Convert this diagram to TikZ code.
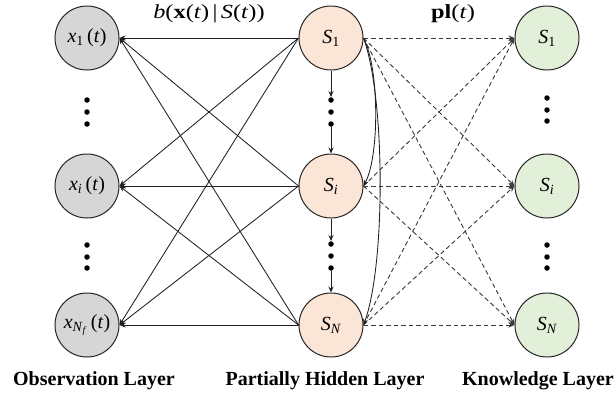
\documentclass[tikz,border=0pt]{standalone}
\usepackage{fontspec}
\setmainfont{Liberation Serif}
\newfontfamily\wideserif[FakeStretch=1.22]{Liberation Serif}
\usetikzlibrary{arrows.meta}
\tikzset{
  lay/.style={circle, draw=black!85, line width=1pt, minimum size=64pt, inner sep=0pt, font=\fontsize{20}{22}\selectfont},
  obs/.style={lay},
  hid/.style={lay},
  kno/.style={lay},
  dotnode/.style={circle, fill=black, inner sep=0pt, minimum size=5.5pt},
  sedge/.style={draw=black!88, line width=0.85pt, -{Stealth[length=6pt,width=5pt]}},
  dedge/.style={draw=black!78, line width=0.9pt, dash pattern=on 4.5pt off 3pt, -{Stealth[length=6pt,width=5pt]}},
  laylabel/.style={font=\fontsize{20}{24}\selectfont\bfseries, inner sep=0pt},
  toplabel/.style={font=\wideserif\fontsize{20}{24}\selectfont, inner sep=0pt}
}
\definecolor{hidfill}{HTML}{FBE5D6}
\definecolor{knofill}{HTML}{E2F0D9}
\definecolor{obsfill}{HTML}{D6D6D6}
\begin{document}
\begin{tikzpicture}[x=1pt,y=-1pt]
\useasboundingbox (0,0) rectangle (616,400);
% observation layer
\node[obs, fill=obsfill] (x1) at (87,38) {\textit{x}\textsubscript{1}\,(\textit{t})};
\node[obs, fill=obsfill] (xi) at (87,186) {\textit{x}\textsubscript{\textit{i}}\,(\textit{t})};
\node[obs, fill=obsfill] (xn) at (87,325) {\textit{x}\textsubscript{\textit{N}\textsubscript{\textit{f}}}\,(\textit{t})};
% hidden layer
\node[hid, fill=hidfill] (s1) at (331,38) {\textit{S}\textsubscript{1}};
\node[hid, fill=hidfill] (si) at (331,186) {\textit{S}\textsubscript{\textit{i}}};
\node[hid, fill=hidfill] (sn) at (331,325) {\textit{S}\textsubscript{\textit{N}}};
% knowledge layer
\node[kno, fill=knofill] (k1) at (547,38) {\textit{S}\textsubscript{1}};
\node[kno, fill=knofill] (ki) at (547,186) {\textit{S}\textsubscript{\textit{i}}};
\node[kno, fill=knofill] (kn) at (547,325) {\textit{S}\textsubscript{\textit{N}}};
% dots
\node[dotnode] (oa1) at (87,100) {};
\node[dotnode] (oa2) at (87,112) {};
\node[dotnode] (oa3) at (87,124) {};
\node[dotnode] (ob1) at (87,245) {};
\node[dotnode] (ob2) at (87,257) {};
\node[dotnode] (ob3) at (87,268) {};
\node[dotnode] (ha1) at (331,100) {};
\node[dotnode] (ha2) at (331,112) {};
\node[dotnode] (ha3) at (331,124) {};
\node[dotnode] (hb1) at (331,244) {};
\node[dotnode] (hb2) at (331,256) {};
\node[dotnode] (hb3) at (331,268) {};
\node[dotnode] (ka1) at (547,98) {};
\node[dotnode] (ka2) at (547,110) {};
\node[dotnode] (ka3) at (547,121) {};
\node[dotnode] (kb1) at (547,245) {};
\node[dotnode] (kb2) at (547,257) {};
\node[dotnode] (kb3) at (547,268) {};
% hidden column arrows
\draw[sedge] (s1.south) -- (ha1.north);
\draw[sedge] (ha3.south) -- (si.north);
\draw[sedge] (si.south) -- (hb1.north);
\draw[sedge] (hb3.south) -- (sn.north);
% emission edges
\foreach \s in {s1,si,sn}{
  \foreach \x in {x1,xi,xn}{
    \draw[sedge] (\s.west) -- (\x.east);
  }
}
% knowledge edges
\foreach \s in {s1,si,sn}{
  \foreach \k in {k1,ki,kn}{
    \draw[dedge] (\s.east) -- (\k.west);
  }
}
% curved transitions
\draw[sedge] (s1.east) .. controls +(16,30) and +(16,-30) .. (si.east);
\draw[sedge] (s1.east) .. controls +(22,60) and +(22,-60) .. (sn.east);
% labels
\node[toplabel] (bl) at (209,14) {\textit{b}(\textbf{x}(\textit{t})\,|\,\textit{S}(\textit{t}))};
\node[toplabel] (pl) at (453,14) {\textbf{pl}(\textit{t})};
\node[laylabel] (lo) at (94,381) {Observation Layer};
\node[laylabel] (lh) at (325,381) {Partially Hidden Layer};
\node[laylabel] (lk) at (538,381) {Knowledge Layer};
\end{tikzpicture}
\end{document}
